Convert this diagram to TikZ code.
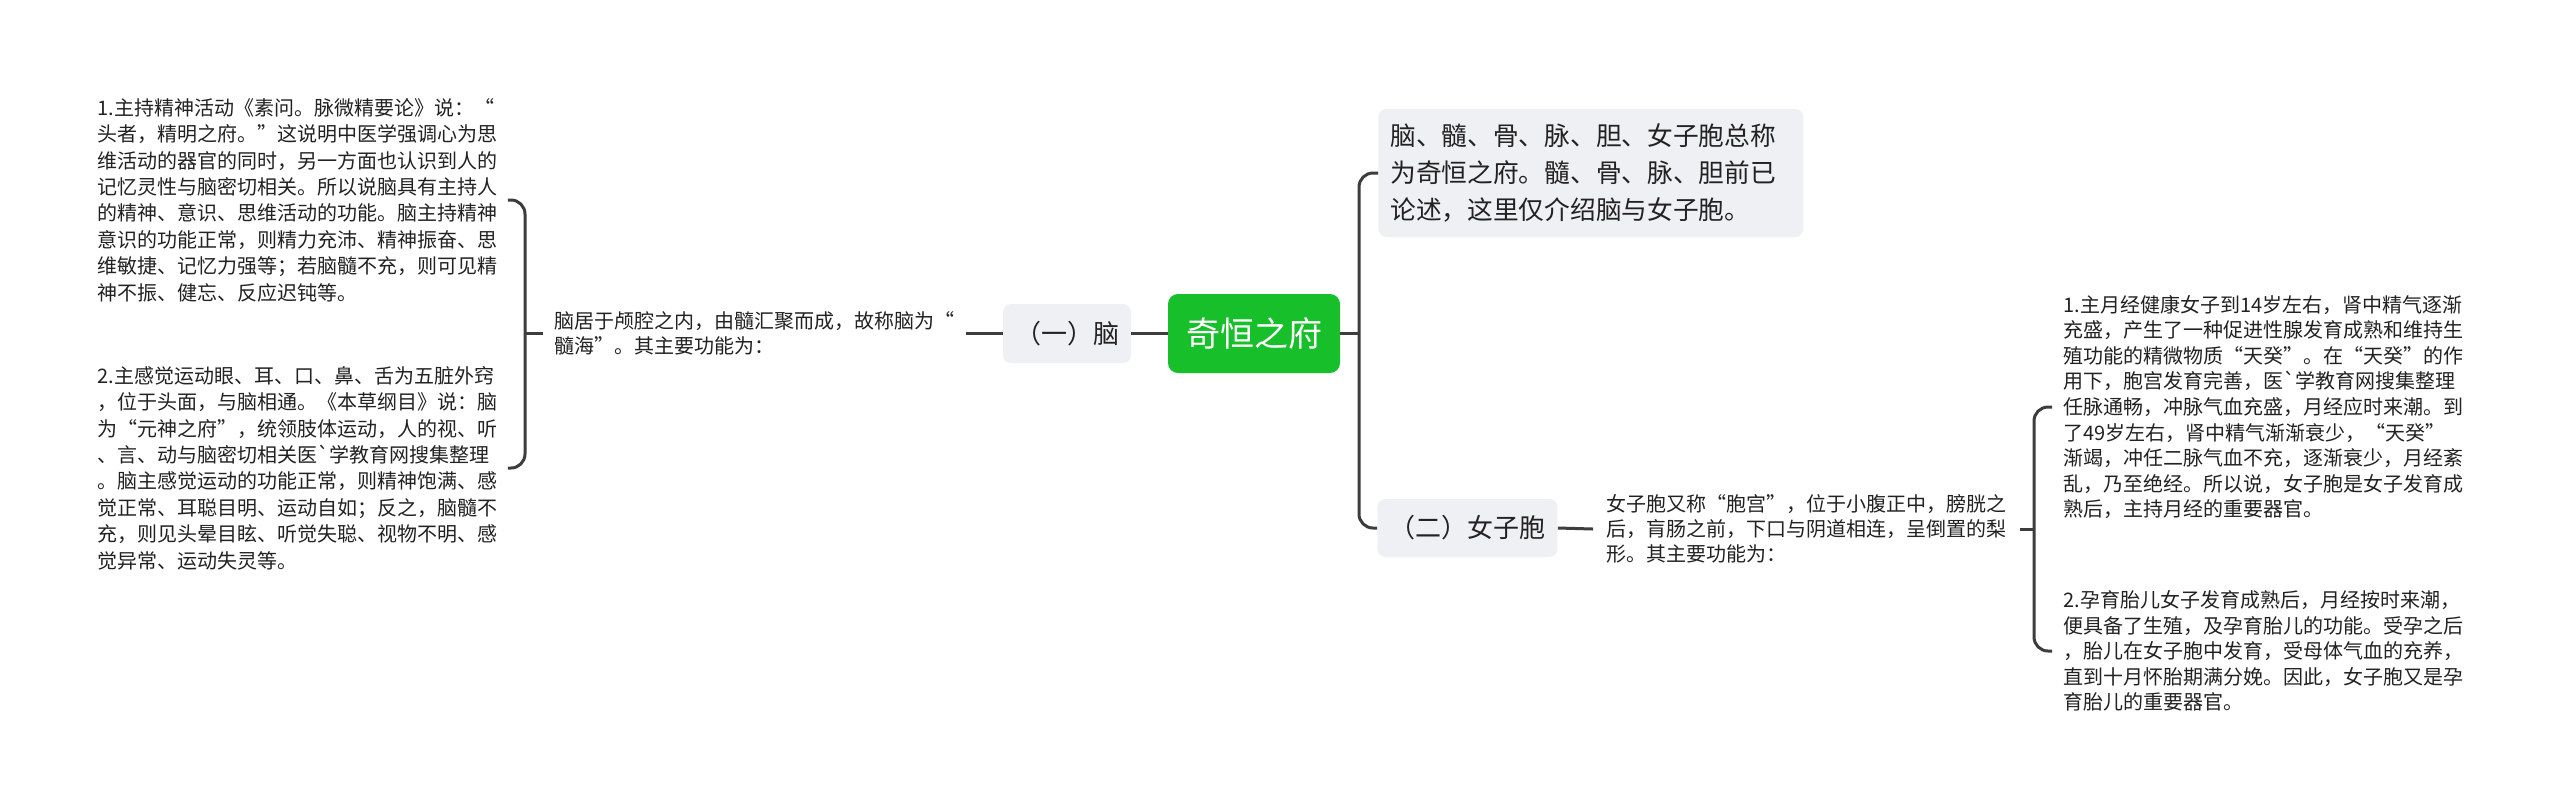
\documentclass[tikz,border=0pt]{standalone}
\usepackage{fontspec}
\setmainfont{Noto Sans CJK SC}
\definecolor{lineC}{HTML}{3D3D3D}
\definecolor{boxC}{HTML}{EEF0F3}
\definecolor{greenC}{HTML}{17BF2A}
\definecolor{txtC}{HTML}{222222}
\begin{document}
\begin{tikzpicture}[x=0.5pt,y=-0.5pt,
  txt/.style={inner ysep=0pt, align=left, text=txtC, anchor=west, text width=200pt},
  box/.style={fill=boxC, rounded corners=4pt, text=txtC, inner sep=0pt},
  conn/.style={draw=lineC, line width=1.5pt, rounded corners=7pt},
  rootbox/.style={fill=greenC, rounded corners=5pt, text=white, inner sep=0pt}]
\useasboundingbox (0,0) rectangle (2560,811);
\fill[white] (0,0) rectangle (2560,811);

\node[rootbox, minimum width=86pt, minimum height=39.5pt, font=\fontsize{17}{20}\selectfont] (root) at (1254,333.5) {奇恒之府};

\node[box, minimum width=64pt, minimum height=29.5pt, font=\fontsize{13}{16}\selectfont] (nao) at (1067,333.5) {（一）脑};

\node[txt, inner xsep=5.5pt, font=\fontsize{10}{12.5}\selectfont] (naodesc) at (543,333.5) {脑居于颅腔之内，由髓汇聚而成，故称脑为“\\髓海”。其主要功能为：};

\node[txt, inner xsep=5pt, font=\fontsize{10}{13.2}\selectfont] (b1) at (87,200) {1.主持精神活动《素问。脉微精要论》说：“\\头者，精明之府。”这说明中医学强调心为思\\维活动的器官的同时，另一方面也认识到人的\\记忆灵性与脑密切相关。所以说脑具有主持人\\的精神、意识、思维活动的功能。脑主持精神\\意识的功能正常，则精力充沛、精神振奋、思\\维敏捷、记忆力强等；若脑髓不充，则可见精\\神不振、健忘、反应迟钝等。};

\node[txt, inner xsep=5pt, font=\fontsize{10}{13.2}\selectfont] (b2) at (87,468) {2.主感觉运动眼、耳、口、鼻、舌为五脏外窍\\，位于头面，与脑相通。《本草纲目》说：脑\\为“元神之府”，统领肢体运动，人的视、听\\、言、动与脑密切相关医\textasciigrave 学教育网搜集整理\\。脑主感觉运动的功能正常，则精神饱满、感\\觉正常、耳聪目明、运动自如；反之，脑髓不\\充，则见头晕目眩、听觉失聪、视物不明、感\\觉异常、运动失灵等。};

\node[box, anchor=west, text width=200.5pt, align=left, inner xsep=6pt, minimum height=64pt, font=\fontsize{12.85}{18.5}\selectfont] (top) at (1378,173) {脑、髓、骨、脉、胆、女子胞总称\\为奇恒之府。髓、骨、脉、胆前已\\论述，这里仅介绍脑与女子胞。};

\node[box, anchor=west, minimum width=90pt, minimum height=29pt, font=\fontsize{13}{16}\selectfont] (nvzi) at (1377,528) {（二）女子胞};

\node[txt, inner xsep=6.5pt, font=\fontsize{10}{12.6}\selectfont] (rmid) at (1593,529) {女子胞又称“胞宫”，位于小腹正中，膀胱之\\后，肓肠之前，下口与阴道相连，呈倒置的梨\\形。其主要功能为：};

\node[txt, inner xsep=5.5pt, font=\fontsize{10}{12.8}\selectfont] (r1) at (2052,407) {1.主月经健康女子到14岁左右，肾中精气逐渐\\充盛，产生了一种促进性腺发育成熟和维持生\\殖功能的精微物质“天癸”。在“天癸”的作\\用下，胞宫发育完善，医\textasciigrave 学教育网搜集整理\\任脉通畅，冲脉气血充盛，月经应时来潮。到\\了49岁左右，肾中精气渐渐衰少，“天癸”\\渐竭，冲任二脉气血不充，逐渐衰少，月经紊\\乱，乃至绝经。所以说，女子胞是女子发育成\\熟后，主持月经的重要器官。};

\node[txt, inner xsep=5.5pt, font=\fontsize{10}{12.8}\selectfont] (r2) at (2052,651) {2.孕育胎儿女子发育成熟后，月经按时来潮，\\便具备了生殖，及孕育胎儿的功能。受孕之后\\，胎儿在女子胞中发育，受母体气血的充养，\\直到十月怀胎期满分娩。因此，女子胞又是孕\\育胎儿的重要器官。};

\coordinate (jl) at (525,333.5);
\coordinate (jr) at (1359,333.5);
\coordinate (jr2) at (2034,529);

\draw[conn] (root.west) -- (nao.east);
\draw[conn] (nao.west) -- (naodesc.east);
\draw[conn] (naodesc.west) -- (jl);
\draw[conn] (b1.east) -| (jl) |- (b2.east);
\draw[conn] (root.east) -- (jr);
\draw[conn] (top.west) -| (jr) |- (nvzi.west);
\draw[conn] (nvzi.east) -- (rmid.west);
\draw[conn] (rmid.east) -- (jr2);
\draw[conn] (r1.west) -| (jr2) |- (r2.west);
\end{tikzpicture}
\end{document}
